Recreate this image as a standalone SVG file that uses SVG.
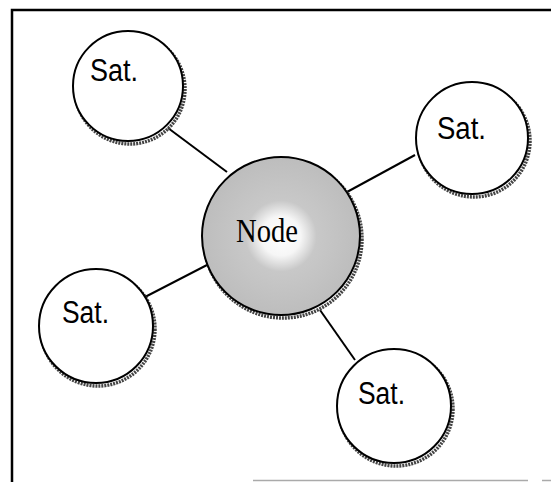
<svg xmlns="http://www.w3.org/2000/svg" width="551" height="482" viewBox="0 0 551 482">
<style>
.sat{fill:#fff;stroke:#000;stroke-width:2}
.shadow{fill:none;stroke:#444;stroke-width:3.5;stroke-dasharray:2 1}
.lbl{font-family:"Liberation Sans",Arial,sans-serif;font-size:31px;fill:#000}
.nlbl{font-family:"Liberation Serif","Times New Roman",serif;font-size:34px;fill:#000}
.conn{stroke:#000;stroke-width:2;fill:none}
</style>
<defs>
<radialGradient id="ng" cx="0.5" cy="0.5" r="0.5">
<stop offset="0" stop-color="#fff"/>
<stop offset="0.25" stop-color="#f6f6f6"/>
<stop offset="0.45" stop-color="#c8c8c8"/>
<stop offset="1" stop-color="#bdbdbd"/>
</radialGradient>
</defs>
<rect width="551" height="482" fill="#fff"/>
<g id="frame">
<path d="M12 482 V10 H551" fill="none" stroke="#000" stroke-width="2.5"/>
<path d="M253 480.5 H528 M542 480.5 H551" stroke="#aaa" stroke-width="1.5"/>
</g>
<g id="connectors">
<line class="conn" x1="168" y1="128" x2="227" y2="172"/>
<line class="conn" x1="415" y1="155" x2="347" y2="192"/>
<line class="conn" x1="145" y1="297" x2="207" y2="265"/>
<line class="conn" x1="355" y1="360" x2="320" y2="310"/>
</g>
<g id="node">
<circle class="shadow" cx="283" cy="239" r="79"/>
<circle cx="281" cy="236" r="79" fill="url(#ng)" stroke="#000" stroke-width="2"/>
<text class="nlbl" x="236" y="242" textLength="62" lengthAdjust="spacingAndGlyphs">Node</text>
</g>
<g id="sat-top-left">
<circle class="shadow" cx="130" cy="89" r="55"/>
<circle class="sat" cx="128" cy="86" r="55"/>
<text class="lbl" x="90" y="81" textLength="48" lengthAdjust="spacingAndGlyphs">Sat.</text>
</g>
<g id="sat-right">
<circle class="shadow" cx="474" cy="141" r="56"/>
<circle class="sat" cx="472" cy="138" r="56"/>
<text class="lbl" x="437" y="139" textLength="49" lengthAdjust="spacingAndGlyphs">Sat.</text>
</g>
<g id="sat-left">
<circle class="shadow" cx="98" cy="329" r="57"/>
<circle class="sat" cx="96" cy="326" r="57"/>
<text class="lbl" x="62" y="323" textLength="47" lengthAdjust="spacingAndGlyphs">Sat.</text>
</g>
<g id="sat-bottom">
<circle class="shadow" cx="396" cy="409" r="57"/>
<circle class="sat" cx="394" cy="406" r="57"/>
<text class="lbl" x="358" y="404" textLength="47" lengthAdjust="spacingAndGlyphs">Sat.</text>
</g>
</svg>
